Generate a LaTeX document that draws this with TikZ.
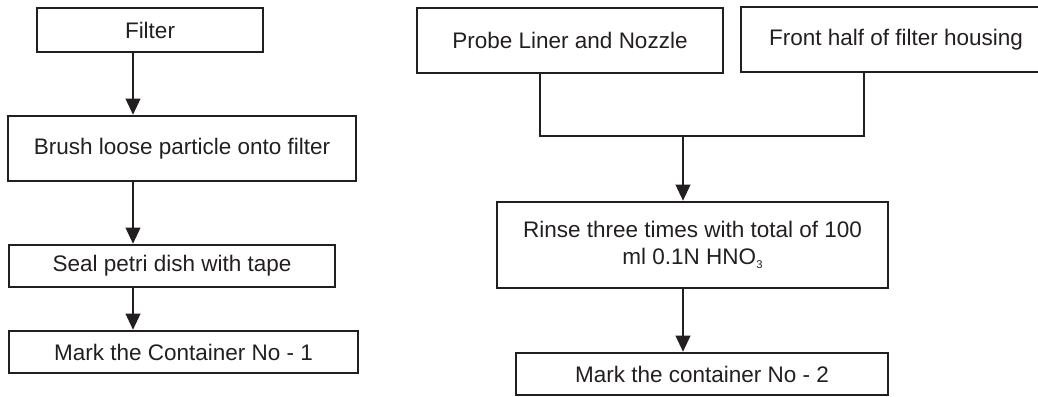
\documentclass[tikz,border=0pt]{standalone}
\usepackage{fontspec}
\setmainfont{Liberation Sans}
\usetikzlibrary{arrows.meta, positioning, calc}
\definecolor{inkblack}{HTML}{231F20}

\begin{document}
\begin{tikzpicture}[
  x=0.025cm, y=-0.025cm,
  every node/.style={font=\fontsize{16}{19.2}\selectfont, text=inkblack},
  stepbox/.style={rectangle, draw=inkblack, line width=1.8pt, align=center, inner sep=0pt},
  flow/.style={-{Triangle[length=11.5pt, width=10.5pt]}, draw=inkblack, line width=1.3pt},
  link/.style={draw=inkblack, line width=1.3pt},
]
\useasboundingbox (0,0) rectangle (1038,396);

% Filter container
\node[stepbox, minimum width=5.65cm, minimum height=1.1cm] (filt) at (150,30) {Filter};
\node[stepbox, minimum width=8.7cm, minimum height=1.625cm] (brush) at (182,148.5) {Brush loose particle onto filter};
\node[stepbox, minimum width=8.15cm, minimum height=1.05cm] (seal) at (172,266) {Seal petri dish with tape};
\node[stepbox, minimum width=8.725cm, minimum height=1.05cm] (mark1) at (183.5,352) {Mark the Container No - 1};

% Rinse container
\node[stepbox, minimum width=7.65cm, minimum height=1.625cm] (probe) at (570,40.5) {Probe Liner and Nozzle};
\node[stepbox, minimum width=7.75cm, minimum height=1.625cm] (front) at (896,39.5) {Front half of filter housing};
\node[stepbox, minimum width=9.775cm, minimum height=2.15cm] (rinse) at (692.5,245) {Rinse three times with total of 100\\ml 0.1N HNO\raisebox{-0.3ex}{\fontsize{8}{8}\selectfont 3}};
\node[stepbox, minimum width=9.3cm, minimum height=1.05cm] (mark2) at (702,374) {Mark the container No - 2};

% Connections
\coordinate (ldrop) at (133,0);
\coordinate (pdrop) at (540,0);
\coordinate (fdrop) at (864,0);
\coordinate (join) at (683,136);

\draw[flow] (filt.south -| ldrop) -- (brush.north -| ldrop);
\draw[flow] (brush.south -| ldrop) -- (seal.north -| ldrop);
\draw[flow] (seal.south -| ldrop) -- (mark1.north -| ldrop);

\draw[link] (probe.south -| pdrop) |- (join) -| (front.south -| fdrop);
\draw[flow] (join) -- (rinse.north -| join);
\draw[flow] (rinse.south -| join) -- (mark2.north -| join);

\end{tikzpicture}
\end{document}
